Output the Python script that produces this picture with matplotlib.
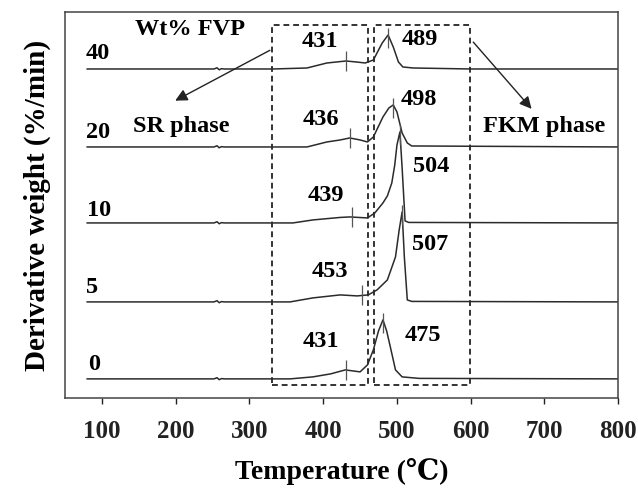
import numpy as np
import matplotlib.pyplot as plt
from matplotlib.patches import Rectangle

# FVP content (wt%) of each DTG curve, bottom to top
wt = ['0', '5', '10', '20', '40']

# peak temperatures written on the plot
sr_peaks = [431, 453, 439, 436, 431]
fkm_peaks = [475, 507, 504, 498, 489]

# DTG curves (temperature, derivative weight in arbitrary units)
T0 = [80, 252, 256, 259, 262, 266, 355, 386, 410, 430, 450, 460, 468, 475, 481, 486, 491, 498, 507, 530, 800]
v0 = [0, 0, 1.2, -0.8, 0.3, 0, 0, 2, 5, 9, 7, 14, 29, 48, 59, 48, 32, 9, 2, 0.5, 0]

T5 = [80, 252, 256, 259, 262, 266, 355, 386, 423, 446, 461, 473, 487, 498, 503, 507, 510, 514, 520, 800]
v5 = [0, 0, 1.2, -0.8, 0.3, 0, 0, 4, 7, 6, 7, 12, 22, 45, 72, 90, 45, 2, 0.5, 0]

T10 = [80, 252, 256, 259, 262, 266, 359, 386, 423, 436, 460, 470, 481, 487, 493, 497, 500, 504, 507, 511, 516, 800]
v10 = [0, 0, 1.2, -0.8, 0.3, 0, 0, 3, 5.5, 6, 5, 10, 20, 27, 40, 58, 78, 91, 55, 2, 0.5, 0]

T20 = [80, 252, 256, 259, 262, 266, 378, 405, 423, 436, 450, 460, 468, 481, 489, 495, 500, 507, 514, 520, 800]
v20 = [0, 0, 1.2, -0.8, 0.3, 0, 0, 5, 7, 9, 7, 5, 10, 30, 39, 42, 35, 14, 4, 1, 0]

T40 = [80, 252, 256, 259, 262, 266, 332, 378, 405, 431, 445, 457, 468, 480, 488, 495, 502, 508, 522, 600, 800]
v40 = [0, 0, 1.2, -0.8, 0.3, 0, 0, 1, 6, 8, 7, 6, 9, 26, 34, 22, 7, 2, 1, 0, 0]

temps = [T0, T5, T10, T20, T40]
vals = [v0, v5, v10, v20, v40]
offsets = [19, 96, 175, 251, 329]  # vertical stacking of curves

plt.rcParams['font.family'] = ['Liberation Serif', 'DejaVu Serif']
plt.rcParams['font.weight'] = 'bold'

fig = plt.figure(figsize=(6.38, 4.9), dpi=100)
ax = fig.add_axes([0.102, 0.188, 0.867, 0.7875])

lc = '#2b2b2b'
for T, v, off in zip(temps, vals, offsets):
    y = np.array(v) + off
    ax.plot(T, y, color=lc, lw=1.1)

# peak markers
for T, v, off, sr in zip(temps, vals, offsets, sr_peaks):
    yv = np.interp(sr, T, v) + off
    ax.vlines(sr, yv - 10, yv + 10, color='#555555', lw=0.9)
    i = int(np.argmax(v))
    ax.vlines(T[i], v[i] + off - 13, v[i] + off + 7, color='#555555', lw=0.9)

fs = 17.5

# curve labels
lab_pos = [(81, 33), (78.5, 110), (80, 187), (78.5, 265), (78.5, 344)]
for name, (x, y) in zip(wt, lab_pos):
    ax.text(x, y, name, fontsize=fs, fontweight='bold', ha='left', va='center')

# peak temperature labels
sr_pos = [(397, 56), (409, 126), (403, 202), (397, 278), (396, 356)]
fkm_pos = [(535, 62), (545, 153), (546, 231), (529, 298), (531, 358)]
for p, (x, y) in zip(sr_peaks, sr_pos):
    ax.text(x, y, str(p), fontsize=fs, fontweight='bold', ha='center', va='center')
for p, (x, y) in zip(fkm_peaks, fkm_pos):
    ax.text(x, y, str(p), fontsize=fs, fontweight='bold', ha='center', va='center')

ax.text(145, 368, 'Wt% FVP', fontsize=fs, fontweight='bold', ha='left', va='center')
ax.text(142, 271, 'SR phase', fontsize=fs, fontweight='bold', ha='left', va='center')
ax.text(700, 271, 'FKM phase', fontsize=fs, fontweight='bold', ha='center', va='center')

# dashed boxes around the two degradation stages
for x0, x1 in [(331, 461), (469, 599)]:
    ax.add_patch(Rectangle((x0, 13), x1 - x0, 360, fill=False, ls=(0, (3, 2)),
                           lw=1.4, ec='#333333'))

ax.annotate('', xy=(196, 296), xytext=(331, 349),
            arrowprops=dict(arrowstyle='-|>', color='#222222', lw=1.0, mutation_scale=18))
ax.annotate('', xy=(685, 287), xytext=(601, 358),
            arrowprops=dict(arrowstyle='-|>', color='#222222', lw=1.0, mutation_scale=18))

ax.set_xlim(50, 800)
ax.set_ylim(0, 386)
ax.set_xticks(range(100, 801, 100))
ax.set_yticks([])
ax.tick_params(axis='x', direction='out', length=4, width=1, pad=12, labelsize=18, colors='#222222')
for s in ax.spines.values():
    s.set_color('#444444')
    s.set_linewidth(1.1)

ax.set_xlabel('Temperature (℃)', fontsize=20, fontweight='bold', labelpad=11)
ax.set_ylabel('Derivative weight (%/min)', fontsize=21, fontweight='bold', labelpad=10)

fig.savefig('out.png', dpi=100)
